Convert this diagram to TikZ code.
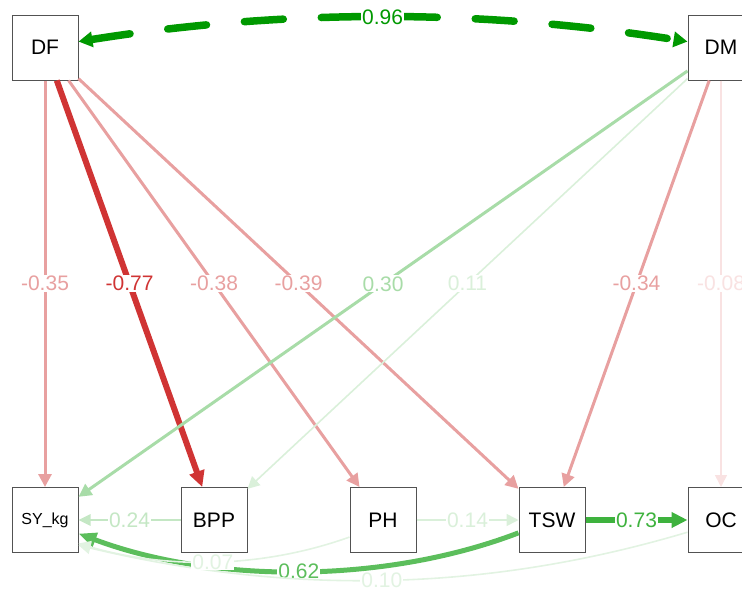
\documentclass[tikz,border=0pt]{standalone}
\usepackage{fontspec}
\setmainfont{Liberation Sans}
\usetikzlibrary{arrows.meta}

% path colours: green for positive, red for negative coefficients
\definecolor{gA}{RGB}{0,153,0}
\definecolor{gB}{RGB}{62,178,62}
\definecolor{gC}{RGB}{92,190,92}
\definecolor{gD}{RGB}{168,220,168}
\definecolor{gE}{RGB}{196,231,196}
\definecolor{gF}{RGB}{218,240,218}
\definecolor{gG}{RGB}{226,243,226}
\definecolor{rA}{RGB}{208,52,52}
\definecolor{rB}{RGB}{232,160,160}
\definecolor{rC}{RGB}{249,226,226}

\begin{document}
\begin{tikzpicture}[x=1pt,y=-1pt,
  var/.style={draw=black!68, line width=1pt, fill=white,
    minimum width=66pt, minimum height=65pt, inner sep=0pt,
    font=\fontsize{21}{24}\selectfont},
  coef/.style={fill=white, inner sep=1pt, font=\fontsize{21}{24}\selectfont},
  link/.style={line width=3pt, -{Triangle[length=13pt,width=13pt]}},
  thinlink/.style={line width=1.6pt, -{Triangle[length=12pt,width=12pt]}},
  heavylink/.style={-{Triangle[length=16pt,width=15pt]}}
]
\useasboundingbox (0,0) rectangle (742,589);
\clip (0,0) rectangle (742,589);

% variables
\node[var] (DF) at (45,47.5) {DF};
\node[var] (DM) at (721,47.5) {DM};
\node[var, font=\fontsize{16}{18}\selectfont] (SY) at (45,520) {SY\_kg};
\node[var] (BPP) at (214,520) {BPP};
\node[var] (PH) at (383,520) {PH};
\node[var] (TSW) at (552,520) {TSW};
\node[var] (OC) at (721,520) {OC};

% covariance between the two exogenous variables
\draw[gA, line width=7.5pt, line cap=round, dash pattern=on 39pt off 38pt,
  {Triangle[length=14pt,width=15pt]}-{Triangle[length=14pt,width=15pt]}]
  (DF.10) .. controls (285,8.8) and (480,8.8) .. node[coef] {0.96} (DM.170);

% strong paths
\draw[rA, heavylink, line width=6pt] (DF) -- node[coef] {-0.77} (BPP);
\draw[gB, heavylink, line width=5.5pt] (TSW) -- node[coef] {0.73} (OC);
\draw[gC, line width=5pt, -{Triangle[length=18pt,width=14pt]}]
  (TSW.201.5) .. controls (385,584) and (213,584) .. node[coef] {0.62} (SY.338.5);

% moderate paths
\draw[rB, link] (DF) -- node[coef] {-0.35} (SY);
\draw[rB, link] (DF) -- node[coef] {-0.38} (PH);
\draw[rB, link] (DF) -- node[coef] {-0.39} (TSW);
\draw[rB, link] (DM) -- node[coef] {-0.34} (TSW);
\draw[gD, link] (DM) -- node[coef] {0.30} (SY);
\draw[gE, line width=2.6pt, -{Triangle[length=12pt,width=11pt]}]
  (BPP) -- node[coef] {0.24} (SY);

% weak paths
\draw[gF, thinlink] (DM) -- node[coef] {0.11} (BPP);
\draw[gF, thinlink] (PH) -- node[coef] {0.14} (TSW);
\draw[rC, thinlink] (DM) -- node[coef] {-0.08} (OC);
\draw[gG, thinlink]
  (OC.200) .. controls (480,594) and (283,594) .. node[coef] {0.10} (SY.323);
\draw[gG, thinlink]
  (PH.207) .. controls (260,569) and (165,569) .. node[coef] {0.07} (SY.325);
\end{tikzpicture}
\end{document}
